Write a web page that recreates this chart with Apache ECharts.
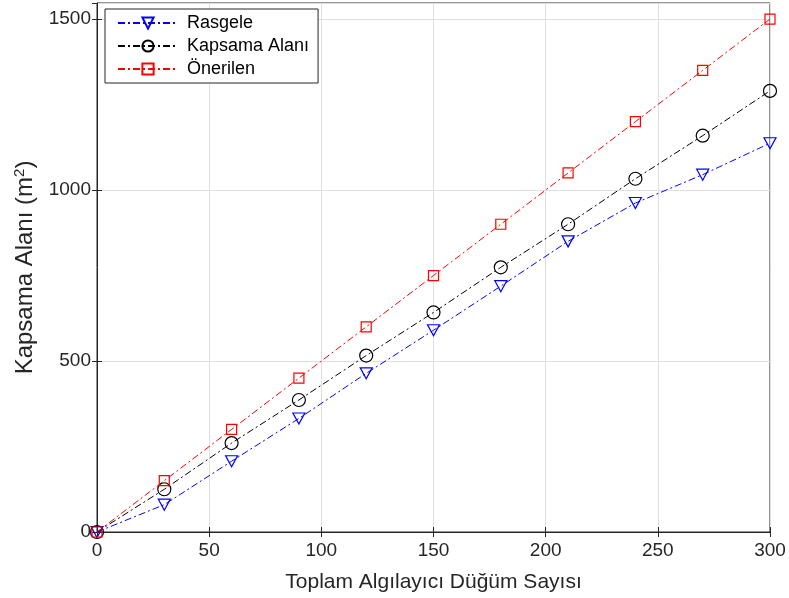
<!DOCTYPE html>
<html><head><meta charset="utf-8">
<script src="https://cdn.jsdelivr.net/npm/echarts@6/dist/echarts.min.js"></script>
<style>html,body{margin:0;padding:0;background:#fff}#c{width:789px;height:598px}</style>
</head><body><div id="c"></div>
<script>
const xValues = [0, 30, 60, 90, 120, 150, 180, 210, 240, 270, 300];
const rasgele = [0, 80, 207, 332, 464, 590, 719, 850, 962, 1045, 1137];
const kapsama = [0, 125, 260, 386, 516, 642, 774, 900, 1033, 1159, 1290];
const onerilen = [0, 150, 300, 450, 600, 750, 900, 1050, 1200, 1350, 1500];
const seriesNames = ['Rasgele', 'Kapsama Alanı', 'Önerilen'];
const xTicks = [0, 50, 100, 150, 200, 250, 300];
const yTicks = [0, 500, 1000, 1500];

const axisCol = '#262626';
const font = 'Liberation Sans, Arial, sans-serif';
const dashDot = [7, 3, 2, 3];

function mk(name, data, color, symbol, size) {
  return {
    name: name, type: 'line', xAxisIndex: 0, yAxisIndex: 0,
    data: xValues.map((x, i) => [x, data[i]]),
    symbol: symbol, symbolSize: size, showAllSymbol: true,
    itemStyle: { color: 'transparent', borderColor: color, borderWidth: 1.2 },
    lineStyle: { color: color, width: 1, type: dashDot },
    emphasis: { disabled: true }, animation: false, z: 3
  };
}
const trianglePath = 'path://M0,0 L10,0 L5,9 Z';

const chart = echarts.init(document.getElementById('c'), null, { renderer: 'canvas' });
chart.setOption({
  animation: false,
  backgroundColor: '#fff',
  grid: { left: 97, right: 19, top: 3, bottom: 65, show: true, borderColor: axisCol, borderWidth: 1, containLabel: false },
  legend: {
    data: seriesNames, orient: 'vertical', left: 105, top: 9,
    itemWidth: 60, itemHeight: 14, itemGap: 5, padding: [5, 9, 5, 12],
    borderColor: axisCol, borderWidth: 1, backgroundColor: '#fff',
    textStyle: { fontFamily: font, fontSize: 18, color: '#000', padding: [0, 0, 0, 4] }
  },
  xAxis: [{
    type: 'value', min: 0, max: 300, interval: 50,
    name: 'Toplam Algılayıcı Düğüm Sayısı', nameLocation: 'middle', nameGap: 40,
    nameTextStyle: { fontFamily: font, fontSize: 21, color: axisCol },
    axisLine: { show: true, lineStyle: { color: axisCol } },
    axisTick: { show: true, inside: true, length: 5, lineStyle: { color: axisCol } },
    axisLabel: { fontFamily: font, fontSize: 19, color: axisCol, margin: 9,
      formatter: v => (xTicks.indexOf(v) >= 0 ? String(v) : '') },
    splitLine: { show: true, lineStyle: { color: '#dfdfdf', width: 1 } }
  }, {
    type: 'value', min: 0, max: 300, interval: 50, position: 'top',
    axisLine: { show: false }, axisLabel: { show: false },
    axisTick: { show: true, inside: true, length: 5, lineStyle: { color: axisCol } },
    splitLine: { show: false }
  }],
  yAxis: [{
    type: 'value', min: 0, max: 1547, interval: 500,
    name: 'Kapsama Alanı (m{sup|2})', nameLocation: 'middle', nameGap: 58,
    nameTextStyle: { fontFamily: font, fontSize: 24, color: axisCol,
      rich: { sup: { fontFamily: font, fontSize: 15, color: axisCol, verticalAlign: 'bottom', padding: [0, 0, 11, 0] } } },
    axisLine: { show: true, lineStyle: { color: axisCol } },
    axisTick: { show: true, inside: true, length: 5, lineStyle: { color: axisCol } },
    axisLabel: { fontFamily: font, fontSize: 19, color: axisCol, margin: 6, showMaxLabel: false,
      formatter: v => (yTicks.indexOf(v) >= 0 ? String(v) : '') },
    splitLine: { show: true, lineStyle: { color: '#dfdfdf', width: 1 } }
  }, {
    type: 'value', min: 0, max: 1547, interval: 500, position: 'right',
    axisLine: { show: false }, axisLabel: { show: false },
    axisTick: { show: true, inside: true, length: 5, lineStyle: { color: axisCol } },
    splitLine: { show: false }
  }],
  series: [
    mk(seriesNames[0], rasgele, '#0000ff', trianglePath, [12, 11]),
    mk(seriesNames[1], kapsama, '#000000', 'circle', 13),
    mk(seriesNames[2], onerilen, '#ff0000', 'rect', 10)
  ]
});
</script></body></html>
